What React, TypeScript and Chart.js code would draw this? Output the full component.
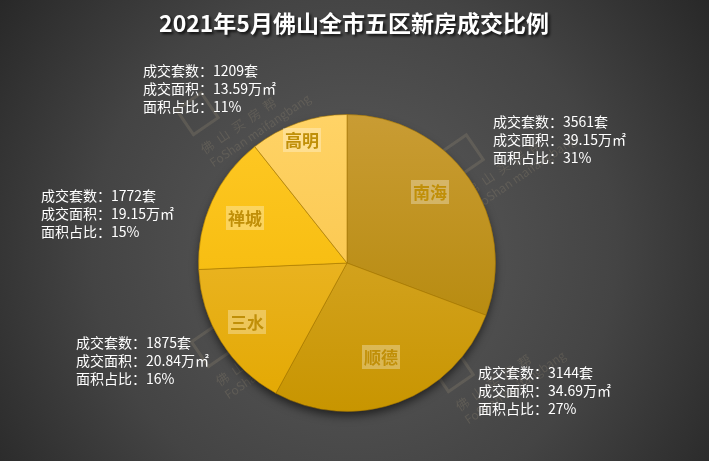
import React, { useEffect, useRef } from 'react';
import { Chart, registerables } from 'chart.js';
Chart.register(...registerables);

const titleText = '2021年5月佛山全市五区新房成交比例';
const categories = ['南海', '顺德', '三水', '禅城', '高明'];
const areaValues = [39.15, 34.69, 20.84, 19.15, 13.59];
const unitCounts = [3561, 3144, 1875, 1772, 1209];
const percentLabels = ['31%', '27%', '16%', '15%', '11%'];

const gradTop = ['#c99c34', '#dcae3a', '#efbd3f', '#ffc926', '#ffd366'];
const gradBottom = ['#b08400', '#c89500', '#e3a800', '#f0b400', '#f7c040'];

// text layout (label anchors)
const outerLabelPos = [
  { x: 493, y: 122 },
  { x: 478, y: 373 },
  { x: 76, y: 343 },
  { x: 41, y: 196 },
  { x: 143, y: 71 },
];
const innerLabelPos = [
  { x: 430, y: 192 },
  { x: 381, y: 357 },
  { x: 247, y: 322 },
  { x: 245, y: 218 },
  { x: 302, y: 140 },
];
const watermarks = [
  { x: 235, y: 128 },
  { x: 500, y: 170 },
  { x: 250, y: 360 },
  { x: 490, y: 385 },
];

const FONT = '"Noto Sans CJK SC", "Noto Sans", sans-serif';

const bgPlugin = {
  id: 'bgPlugin',
  beforeDraw(chart: any) {
    const { ctx, width, height } = chart;
    ctx.save();
    const g = ctx.createRadialGradient(354, 250, 20, 354, 250, 460);
    g.addColorStop(0, '#5a5a5a');
    g.addColorStop(0.55, '#444444');
    g.addColorStop(1, '#242424');
    ctx.fillStyle = g;
    ctx.fillRect(0, 0, width, height);
    // watermarks
    ctx.fillStyle = 'rgba(200,180,140,0.16)';
    ctx.strokeStyle = 'rgba(200,180,140,0.16)';
    ctx.lineWidth = 3;
    watermarks.forEach((w) => {
      ctx.save();
      ctx.translate(w.x, w.y);
      ctx.rotate(-0.6);
      ctx.strokeRect(-38, -48, 30, 30);
      ctx.font = '13px ' + FONT;
      ctx.textAlign = 'left';
      ctx.textBaseline = 'middle';
      ctx.fillText('佛  山  买  房  帮', -40, 0);
      ctx.font = '12px ' + FONT;
      ctx.fillText('FoShan maifangbang', -40, 16);
      ctx.restore();
    });
    // title
    ctx.font = 'bold 23px ' + FONT;
    ctx.textAlign = 'center';
    ctx.textBaseline = 'middle';
    ctx.shadowColor = 'rgba(0,0,0,0.8)';
    ctx.shadowBlur = 3;
    ctx.shadowOffsetX = 2;
    ctx.shadowOffsetY = 2;
    ctx.fillStyle = '#ffffff';
    ctx.fillText(titleText, 354, 23);
    ctx.restore();
  },
  beforeDatasetsDraw(chart: any) {
    const meta = chart.getDatasetMeta(0);
    const a = meta.data[0];
    if (!a) return;
    const { ctx } = chart;
    ctx.save();
    ctx.shadowColor = 'rgba(0,0,0,0.6)';
    ctx.shadowBlur = 10;
    ctx.shadowOffsetY = 5;
    ctx.fillStyle = '#b08400';
    ctx.beginPath();
    ctx.arc(a.x, a.y, a.outerRadius - 1, 0, Math.PI * 2);
    ctx.fill();
    ctx.restore();
  },
  afterDatasetsDraw(chart: any) {
    const { ctx } = chart;
    ctx.save();
    // inner labels
    ctx.font = 'bold 17px ' + FONT;
    ctx.textAlign = 'center';
    ctx.textBaseline = 'middle';
    categories.forEach((c, i) => {
      const p = innerLabelPos[i];
      const w = ctx.measureText(c).width + 4;
      ctx.fillStyle = 'rgba(255,255,255,0.3)';
      ctx.fillRect(p.x - w / 2, p.y - 12, w, 24);
      ctx.fillStyle = '#c08f08';
      ctx.fillText(c, p.x, p.y + 1);
    });
    // outer labels
    ctx.font = '14px ' + FONT;
    ctx.textAlign = 'left';
    ctx.fillStyle = '#ffffff';
    categories.forEach((c, i) => {
      const p = outerLabelPos[i];
      ctx.fillText('成交套数：' + unitCounts[i] + '套', p.x, p.y);
      ctx.fillText('成交面积：' + areaValues[i].toFixed(2) + '万㎡', p.x, p.y + 18);
      ctx.fillText('面积占比：' + percentLabels[i], p.x, p.y + 36);
    });
    ctx.restore();
  },
};

export default function App() {
  const ref = useRef<HTMLCanvasElement>(null);
  useEffect(() => {
    if (!ref.current) return;
    const chart = new Chart(ref.current, {
      type: 'pie',
      data: {
        labels: categories,
        datasets: [
          {
            data: areaValues,
            backgroundColor: (ctx: any) => {
              const i = ctx.dataIndex;
              const area = ctx.chart.chartArea;
              if (!area) return gradTop[i];
              const g = ctx.chart.ctx.createLinearGradient(0, area.top, 0, area.bottom);
              g.addColorStop(0, gradTop[i]);
              g.addColorStop(1, gradBottom[i]);
              return g;
            },
            borderColor: 'rgba(160,115,0,0.55)',
            borderWidth: 1,
          },
        ],
      },
      options: {
        responsive: false,
        animation: false,
        devicePixelRatio: 1,
        layout: { padding: { left: 198, right: 213, top: 114, bottom: 49 } },
        plugins: { legend: { display: false }, tooltip: { enabled: false }, title: { display: false } },
      },
      plugins: [bgPlugin],
    } as any);
    return () => chart.destroy();
  }, []);
  return (
    <div style={{ position: 'absolute', left: 0, top: 0, width: 709, height: 461 }}>
      <canvas ref={ref} width={709} height={461} style={{ display: 'block' }} />
    </div>
  );
}
